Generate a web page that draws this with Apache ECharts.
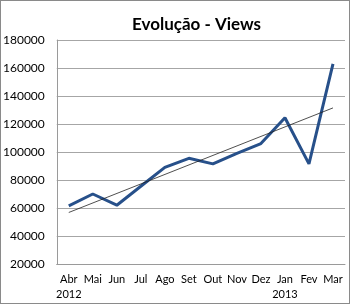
<!DOCTYPE html>
<html><head><meta charset="utf-8">
<script src="https://cdn.jsdelivr.net/npm/echarts@6/dist/echarts.min.js"></script>
<style>
html,body{margin:0;padding:0;background:#fff;}
#wrap{position:absolute;left:0;top:0;width:348px;height:302px;border:1px solid #8a8a8a;}
#c{position:absolute;left:-1px;top:-1px;width:350px;height:304px;}
</style></head>
<body><div id="wrap"><div id="c"></div></div>
<script>
const categories = ['Abr','Mai','Jun','Jul','Ago','Set','Out','Nov','Dez','Jan','Fev','Mar'];
const yearLabels = ['2012','','','','','','','','','2013','',''];
const views = [61500, 70000, 62000, 75500, 89000, 95500, 91500, 99000, 106000, 124500, 91500, 163000];
const trendEnds = [56800, 131500];
const yTicks = [20000, 180000, 20000]; // min, max, interval

const chart = echarts.init(document.getElementById('c'), null, {renderer:'canvas'});
const font = 'Lato, "Open Sans", sans-serif';
chart.setOption({
  animation:false,
  title:{text:'Evolução - Views', left:127, top:11,
    textStyle:{fontFamily:font, fontSize:17, fontWeight:'bold', color:'#000'}},
  grid:{left:55, right:5, top:40, bottom:40},
  xAxis:{type:'category', data:categories, boundaryGap:true,
    axisLine:{lineStyle:{color:'#9a9a9a'}}, axisTick:{show:false},
    axisLabel:{fontFamily:font, fontSize:11, color:'#000', interval:0, margin:8, lineHeight:15,
      formatter:(v,i)=> yearLabels[i] ? v+'\n'+yearLabels[i] : v}},
  yAxis:{type:'value', min:yTicks[0], max:yTicks[1], interval:yTicks[2],
    axisLine:{show:true, lineStyle:{color:'#9a9a9a'}}, axisTick:{show:false},
    splitLine:{lineStyle:{color:'#a6a6a6', width:1}},
    axisLabel:{fontFamily:font, fontSize:12, color:'#000', margin:12, formatter:v=>String(v)}},
  series:[
    {type:'line', data:views, symbol:'none', lineStyle:{color:'#27508a', width:3}, z:3},
    {type:'line', data:[[categories[0], trendEnds[0]],[categories[categories.length-1], trendEnds[1]]],
      symbol:'none', lineStyle:{color:'#222', width:0.8}, z:4}
  ]
});
</script></body></html>
